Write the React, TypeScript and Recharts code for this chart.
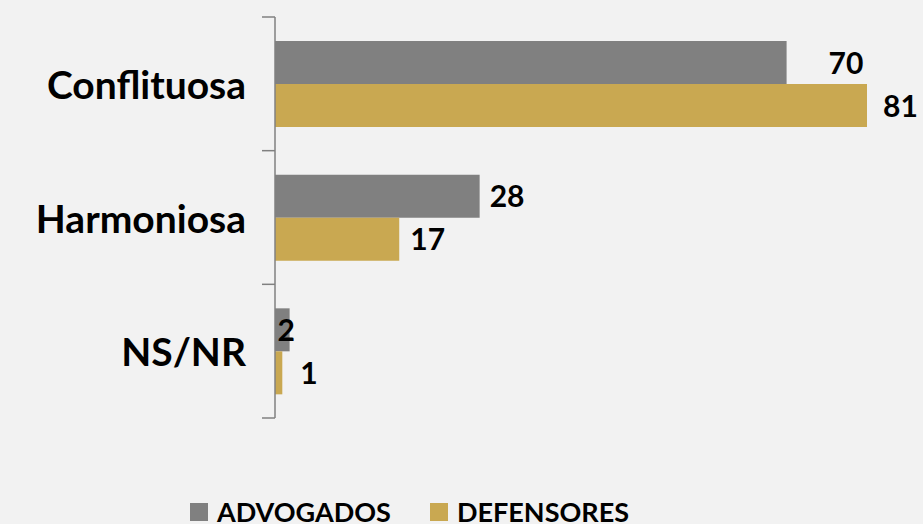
import { Bar, BarChart, LabelList, Legend, XAxis, YAxis } from "recharts";

const categories = ["Conflituosa", "Harmoniosa", "NS/NR"];
const advogados = [70, 28, 2];
const defensores = [81, 17, 1];

// nudges for the value labels, as hand-placed in the original
const advogadosLabelDx = [42, 10, -12];
const defensoresLabelDx = [16, 11, 18];

const GRAY = "#808080";
const GOLD = "#c9a851";
const FONT = "Lato, 'Open Sans', sans-serif";

const W = 923;
const H = 524;
const TOP = 17;
const BOTTOM = 106;
const BAND = (H - TOP - BOTTOM) / categories.length;

const data = categories.map((name, i) => ({
  name,
  advogados: advogados[i],
  defensores: defensores[i],
}));

function CategoryTick({ x, y, payload, index }: any) {
  const top = y - BAND / 2;
  const bottom = y + BAND / 2;
  return (
    <g>
      <line x1={x - 13} x2={x} y1={top} y2={top} stroke={GRAY} strokeWidth={1.5} />
      {index === categories.length - 1 && (
        <line x1={x - 13} x2={x} y1={bottom} y2={bottom} stroke={GRAY} strokeWidth={1.5} />
      )}
      <text
        x={x - 29}
        y={y}
        textAnchor="end"
        dominantBaseline="central"
        fontFamily={FONT}
        fontWeight={700}
        fontSize={39}
        fill="#000"
      >
        {payload.value}
      </text>
    </g>
  );
}

function valueLabel(dxList: number[]) {
  return (props: any) => {
    const { x, y, width, height, value, index } = props;
    return (
      <text
        x={x + width + dxList[index]}
        y={y + height / 2 - 1}
        dominantBaseline="central"
        fontFamily={FONT}
        fontWeight={700}
        fontSize={30}
        fill="#000"
      >
        {value}
      </text>
    );
  };
}

function LegendContent() {
  const items = [
    { label: "ADVOGADOS", color: GRAY, left: 0 },
    { label: "DEFENSORES", color: GOLD, left: 240 },
  ];
  return (
    <div style={{ position: "relative", width: 460, height: 30, fontFamily: FONT, fontWeight: 700, fontSize: 27, color: "#000" }}>
      {items.map((it) => (
        <div key={it.label} style={{ position: "absolute", left: it.left, top: 0, display: "flex", alignItems: "flex-start" }}>
          <span style={{ width: 18, height: 18, background: it.color, marginTop: 5, marginRight: 9 }} />
          <span style={{ lineHeight: "28px", whiteSpace: "nowrap" }}>{it.label}</span>
        </div>
      ))}
    </div>
  );
}

export default function App() {
  return (
    <div style={{ position: "fixed", left: 0, top: 0, width: W, height: H, background: "#f2f2f2", overflow: "hidden" }}>
      <BarChart
        width={W}
        height={H}
        data={data}
        layout="vertical"
        margin={{ top: TOP, right: 56, bottom: BOTTOM, left: 0 }}
        barCategoryGap={24}
        barGap={0}
      >
        <XAxis type="number" domain={[0, 81]} hide />
        <YAxis
          type="category"
          dataKey="name"
          width={275}
          axisLine={{ stroke: GRAY, strokeWidth: 1.5 }}
          tickLine={false}
          tickSize={0}
          tickMargin={0}
          tick={<CategoryTick />}
          interval={0}
        />
        <Legend
          verticalAlign="middle"
          align="center"
          layout="horizontal"
          content={<LegendContent />}
          wrapperStyle={{ position: "absolute", left: 190, top: 498, width: 460 }}
        />
        <Bar dataKey="advogados" name="ADVOGADOS" fill={GRAY} isAnimationActive={false}>
          <LabelList dataKey="advogados" content={valueLabel(advogadosLabelDx)} />
        </Bar>
        <Bar dataKey="defensores" name="DEFENSORES" fill={GOLD} isAnimationActive={false}>
          <LabelList dataKey="defensores" content={valueLabel(defensoresLabelDx)} />
        </Bar>
      </BarChart>
    </div>
  );
}
